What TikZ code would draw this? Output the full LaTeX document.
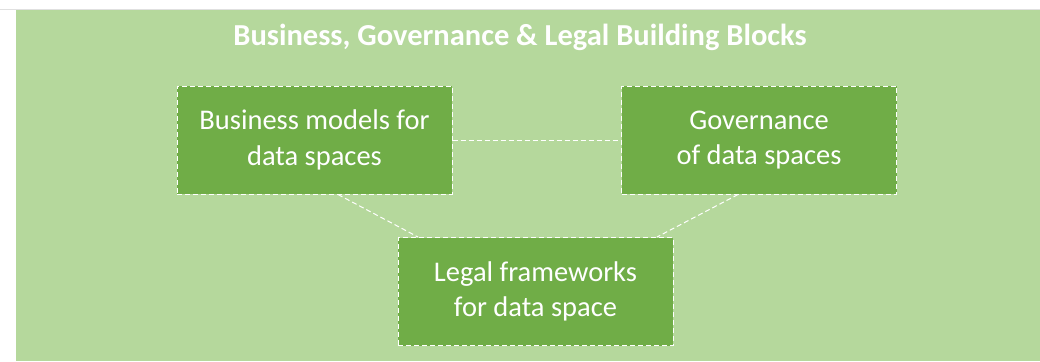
\documentclass[tikz,border=0pt]{standalone}
\usepackage{fontspec}
\setmainfont{Carlito}
\definecolor{bgGreen}{HTML}{B5D89C}
\definecolor{boxGreen}{HTML}{70AD47}
\begin{document}
\begin{tikzpicture}[x=1pt,y=-1pt,
    block/.style={draw=white,fill=boxGreen,dash pattern=on 5pt off 3pt,line width=1pt,
        minimum width=275pt,minimum height=108pt,inner sep=0pt,align=center,
        text=white,font=\fontsize{28.5}{35.5}\selectfont},
    link/.style={draw=white,dash pattern=on 5pt off 3pt,line width=1pt}]
    \useasboundingbox (0,0) rectangle (1040,361);
    %\draw (0,0) grid (1040,361);
    \draw[black!12] (0,9.5) -- (1040,9.5);
    \fill[bgGreen] (16,10) rectangle (1040,361);
    \node[text=white,font=\bfseries\fontsize{30.5}{36}\selectfont] (title) at (520,37) {Business, Governance \& Legal Building Blocks};
    \node[block] (business) at (314.5,140) {Business models for\\data spaces};
    \node[block] (governance) at (759,140) {Governance\\of data spaces};
    \node[block] (legal) at (535.5,291.5) {Legal frameworks\\for data space};
    \draw[link] (business.east) -- (governance.west);
    \draw[link] ([xshift=23.5pt]business.south) -- ([xshift=-117.5pt]legal.north);
    \draw[link] ([xshift=-21pt]governance.south) -- ([xshift=121.5pt]legal.north);
\end{tikzpicture}
\end{document}
